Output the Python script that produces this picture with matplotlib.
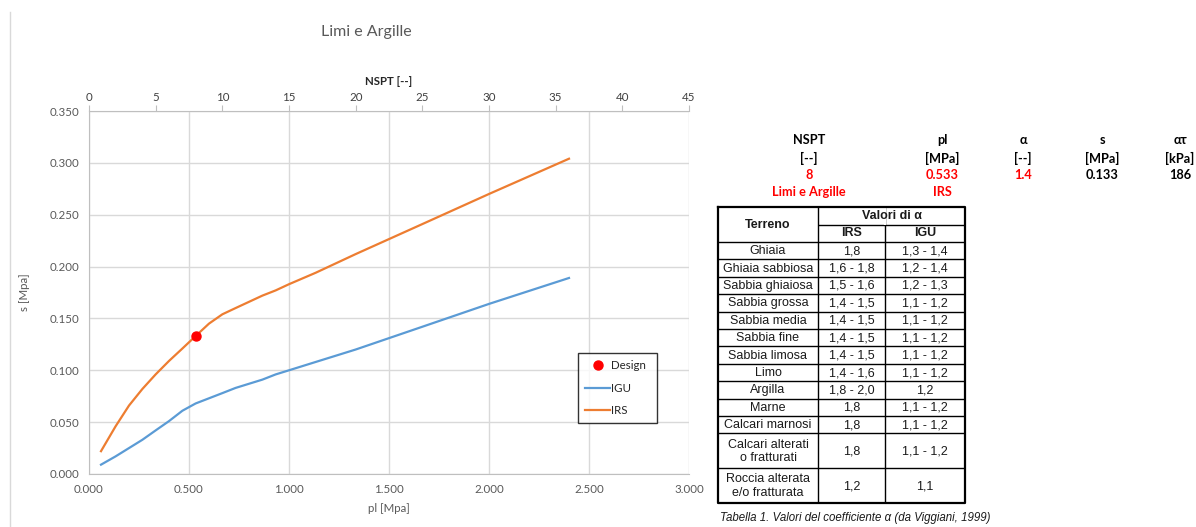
import matplotlib.pyplot as plt
from matplotlib.lines import Line2D

# --- data ---
pl = [0.060, 0.133, 0.200, 0.267, 0.333, 0.400, 0.467, 0.533, 0.600, 0.667,
      0.733, 0.800, 0.867, 0.933, 1.000, 1.133, 1.333, 1.667, 2.000, 2.400]
s_igu = [0.009, 0.017, 0.025, 0.033, 0.042, 0.051, 0.061, 0.068, 0.073, 0.078,
         0.083, 0.087, 0.091, 0.096, 0.100, 0.108, 0.120, 0.142, 0.164, 0.189]
s_irs = [0.022, 0.046, 0.066, 0.082, 0.096, 0.109, 0.121, 0.133, 0.145, 0.154,
         0.160, 0.166, 0.172, 0.177, 0.183, 0.194, 0.212, 0.241, 0.270, 0.304]
design_pl = 0.533
design_s = 0.133

hdr_names = ['NSPT', 'pl', 'α', 's', 'ατ']
hdr_units = ['[--]', '[MPa]', '[--]', '[MPa]', '[kPa]']
hdr_values = ['8', '0.533', '1.4', '0.133', '186']
hdr_red = [True, True, True, False, False]
hdr_soil = ['Limi e Argille', 'IRS', '', '', '']

terreno = ['Ghiaia', 'Ghiaia sabbiosa', 'Sabbia ghiaiosa', 'Sabbia grossa',
           'Sabbia media', 'Sabbia fine', 'Sabbia limosa', 'Limo', 'Argilla',
           'Marne', 'Calcari marnosi', 'Calcari alterati\no fratturati',
           'Roccia alterata\ne/o fratturata']
alpha_irs = ['1,8', '1,6 - 1,8', '1,5 - 1,6', '1,4 - 1,5', '1,4 - 1,5',
             '1,4 - 1,5', '1,4 - 1,5', '1,4 - 1,6', '1,8 - 2,0', '1,8', '1,8',
             '1,8', '1,2']
alpha_igu = ['1,3 - 1,4', '1,2 - 1,4', '1,2 - 1,3', '1,1 - 1,2', '1,1 - 1,2',
             '1,1 - 1,2', '1,1 - 1,2', '1,1 - 1,2', '1,2', '1,1 - 1,2',
             '1,1 - 1,2', '1,1 - 1,2', '1,1']

W, H = 1196, 527
CHART_FONT = ['Lato', 'DejaVu Sans']
TABLE_FONT = ['Liberation Sans', 'DejaVu Sans']
GREY = '#595959'

plt.rcParams['font.family'] = CHART_FONT


def px(x, y):
    return x / W, 1 - y / H


fig = plt.figure(figsize=(W / 100, H / 100), dpi=100)

# chart area border on the left
fig.add_artist(Line2D([10 / W, 10 / W], [0, 1 - 12 / H], color='#d9d9d9', lw=1))

# --- main chart ---
ax = fig.add_axes([89 / W, 1 - 474 / H, 600 / W, 363 / H])
ax.plot(pl, s_igu, color='#5B9BD5', lw=1.6, label='IGU', zorder=3)
ax.plot(pl, s_irs, color='#ED7D31', lw=1.6, label='IRS', zorder=3)
ax.plot([design_pl], [design_s], 'o', color='red', ms=6.5, label='Design', zorder=4)

ax.set_xlim(0, 3.0)
ax.set_ylim(0, 0.35)
ax.set_xticks([0.5 * i for i in range(7)])
ax.set_yticks([0.05 * i for i in range(8)])
ax.set_xticklabels([f'{0.5 * i:.3f}' for i in range(7)])
ax.set_yticklabels([f'{0.05 * i:.3f}' for i in range(8)])
ax.tick_params(length=0, labelsize=8.3, colors=GREY, pad=7)
ax.grid(True, color='#d9d9d9', lw=1)
ax.set_axisbelow(True)
for side in ['left', 'bottom', 'top']:
    ax.spines[side].set_color('#bfbfbf')
ax.spines['right'].set_visible(False)
ax.set_xlabel('pl [Mpa]', fontsize=8.3, color=GREY, labelpad=6)
ax.set_ylabel('s [Mpa]', fontsize=8.3, color=GREY, labelpad=14)

top = ax.twiny()
top.set_xlim(0, 45)
top.set_xticks(range(0, 46, 5))
top.tick_params(axis='x', length=4, color='#bfbfbf', labelsize=8.3, colors='#404040', pad=2)
top.tick_params(axis='x', color='#bfbfbf')
for side in ['left', 'bottom', 'top', 'right']:
    top.spines[side].set_visible(False)
top.set_xlabel('NSPT [--]', fontsize=8.3, fontweight='bold', color='#262626', labelpad=5)

handles, labels = ax.get_legend_handles_labels()
order = [2, 0, 1]
leg = ax.legend([handles[i] for i in order], [labels[i] for i in order],
                loc='lower left', bbox_to_anchor=(0.815, 0.14, 0.132, 0.215),
                mode='expand', fontsize=8.3, frameon=True, fancybox=False,
                edgecolor='black', handlelength=2.2, handletextpad=0.1,
                borderpad=0.6, labelspacing=1.0, borderaxespad=0)
leg.get_frame().set_linewidth(1.0)
for t in leg.get_texts():
    t.set_color('#262626')

fig.text(*px(366, 32), 'Limi e Argille', fontsize=11.5, color=GREY, ha='center', va='center')

# --- summary block ---
col_x = [809, 942, 1023, 1102, 1180]
for i in range(len(hdr_names)):
    vcol = 'red' if hdr_red[i] else 'black'
    fig.text(*px(col_x[i], 140), hdr_names[i], fontsize=9.2, fontweight='bold', ha='center', va='center')
    fig.text(*px(col_x[i], 158), hdr_units[i], fontsize=9.2, fontweight='bold', ha='center', va='center')
    fig.text(*px(col_x[i], 175), hdr_values[i], fontsize=9.2, fontweight='bold', color=vcol,
             ha='center', va='center')
    if hdr_soil[i]:
        fig.text(*px(col_x[i], 192), hdr_soil[i], fontsize=9.2, fontweight='bold', color='red',
                 ha='center', va='center')

# --- alpha table ---
tax = fig.add_axes([718 / W, 1 - 503 / H, 247 / W, 296 / H])
tax.set_xlim(0, 247)
tax.set_ylim(296, 0)
tax.axis('off')

col_w = [100, 67, 80]
col_edges = [0, col_w[0], col_w[0] + col_w[1], sum(col_w)]
head_h = 35
n_lines = [t.count('\n') + 1 for t in terreno]
unit_h = (296 - head_h) / sum(n_lines)
row_edges = [head_h]
for n in n_lines:
    row_edges.append(row_edges[-1] + n * unit_h)

tkw = dict(fontsize=9, family=TABLE_FONT, color='#1a1a1a', ha='center', va='center')
tax.text(col_w[0] / 2, head_h / 2 + 1, 'Terreno', fontweight='bold', **tkw)
tax.text((col_edges[1] + col_edges[3]) / 2, head_h / 4 + 0.5, 'Valori di α', fontweight='bold', **tkw)
tax.text((col_edges[1] + col_edges[2]) / 2, head_h * 3 / 4, 'IRS', fontweight='bold', **tkw)
tax.text((col_edges[2] + col_edges[3]) / 2, head_h * 3 / 4, 'IGU', fontweight='bold', **tkw)

for i in range(len(terreno)):
    yc = (row_edges[i] + row_edges[i + 1]) / 2 + 0.5
    tax.text((col_edges[0] + col_edges[1]) / 2, yc, terreno[i], linespacing=1.15, **tkw)
    tax.text((col_edges[1] + col_edges[2]) / 2, yc, alpha_irs[i], **tkw)
    tax.text((col_edges[2] + col_edges[3]) / 2, yc, alpha_igu[i], **tkw)

# grid lines of the table
tax.hlines(row_edges[:-1], 0, col_edges[-1], color='black', lw=1, clip_on=False)
tax.hlines(head_h / 2, col_edges[1], col_edges[3], color='black', lw=1, clip_on=False)
tax.vlines(col_edges[1:-1], 0, row_edges[-1], color='black', lw=1, clip_on=False)
tax.vlines(col_edges[2], 0, head_h / 2, color='white', lw=1.5, clip_on=False)
tax.plot([0, col_edges[-1], col_edges[-1], 0, 0], [0, 0, row_edges[-1], row_edges[-1], 0],
         color='black', lw=1.6, clip_on=False)

fig.text(*px(720, 518), 'Tabella 1. Valori del coefficiente α (da Viggiani, 1999)',
         fontsize=8.3, style='italic', family=TABLE_FONT, color='#1a1a1a', ha='left', va='center')

fig.savefig('out.png', dpi=100)
